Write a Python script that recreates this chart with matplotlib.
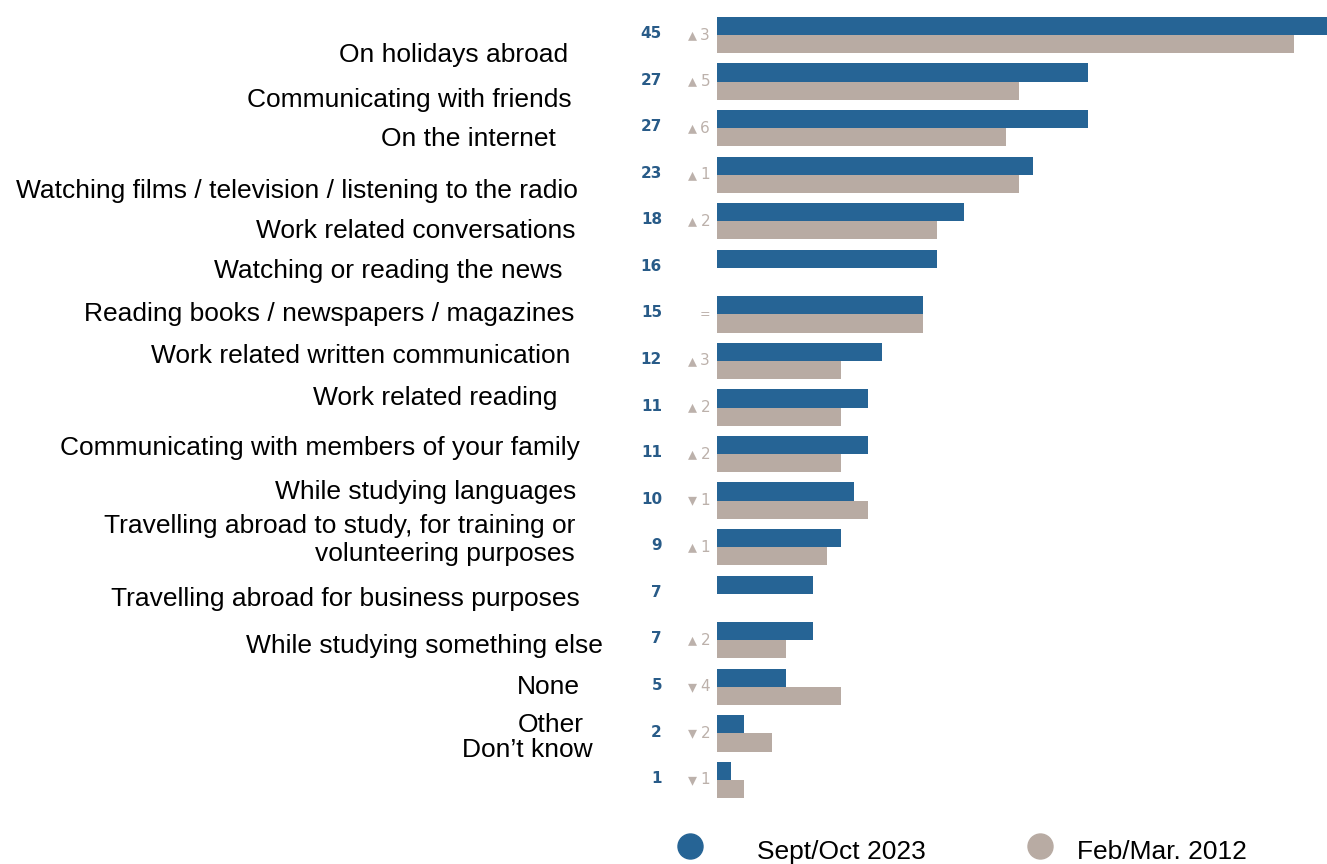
import matplotlib.pyplot as plt
from matplotlib.lines import Line2D
from matplotlib import transforms

plt.rcParams["font.family"] = ["Liberation Sans", "DejaVu Sans"]

# share of respondents (%), latest wave, and change since 2012 (None = new item)
categories = [
    "On holidays abroad",
    "Communicating with friends",
    "On the internet",
    "Watching films / television / listening to the radio",
    "Work related conversations",
    "Watching or reading the news",
    "Reading books / newspapers / magazines",
    "Work related written communication",
    "Work related reading",
    "Communicating with members of your family",
    "While studying languages",
    "Travelling abroad to study, for training or\nvolunteering purposes",
    "Travelling abroad for business purposes",
    "While studying something else",
    "None",
    "Other",
    "Don\u2019t know",
]
values_2023 = [45, 27, 27, 23, 18, 16, 15, 12, 11, 11, 10, 9, 7, 7, 5, 2, 1]
change = [3, 5, 6, 1, 2, None, 0, 3, 2, 2, -1, 1, None, 2, -4, -2, -1]
values_2012 = [None if c is None else v - c for v, c in zip(values_2023, change)]

legend_labels = ["Sept/Oct 2023", "Feb/Mar. 2012"]

BLUE = "#266495"
BEIGE = "#b8aba3"
NUM_BLUE = "#285b88"
GREY = "#bcb1ab"

W, H = 1327, 864
fig = plt.figure(figsize=(W / 100, H / 100), dpi=100)

# bar area: left edge at x=717px, rows centred from 35px down to 780px
row_px = (780 - 35) / 16
top_px = 35 - row_px / 2
bot_px = 780 + row_px / 2
ax = fig.add_axes([717 / W, 1 - bot_px / H, 1 - 717 / W, (bot_px - top_px) / H])
ax.set_xlim(0, 610 / 13.74)
ax.set_ylim(len(categories) - 0.5, -0.5)
ax.axis("off")

h = 0.39
rows = range(len(categories))
ax.barh([i - h / 2 for i in rows], values_2023, height=h, color=BLUE)
prev_rows = [i for i in rows if values_2012[i] is not None]
ax.barh([i + h / 2 for i in prev_rows], [values_2012[i] for i in prev_rows],
        height=h, color=BEIGE)

# value and change columns left of the bars
tr = transforms.blended_transform_factory(fig.transFigure, ax.transData)
for i, (v, c) in enumerate(zip(values_2023, change)):
    ax.text(662 / W, i - 0.03, str(v), transform=tr, ha="right", va="center",
            fontsize=11, fontweight="bold", color=NUM_BLUE,
            family="DejaVu Sans")
    if c is None:
        continue
    if c == 0:
        ax.text(705 / W, i, "=", transform=tr, ha="center", va="center",
                fontsize=9, color=GREY, family="DejaVu Sans")
        continue
    ax.text(692 / W, i, "\u25b4" if c > 0 else "\u25be", transform=tr,
            ha="center", va="center", fontsize=13, color=GREY,
            family="DejaVu Sans")
    ax.text(710 / W, i, str(abs(c)), transform=tr, ha="right", va="center",
            fontsize=11, color=GREY, family="DejaVu Sans")

# category labels
label_right = [568, 572, 556, 578, 576, 563, 574, 570, 557, 580, 576, 575,
               580, 603, 580, 584, 593]
label_y = [54, 99, 138, 190, 230, 270, 313, 355, 397, 447, 491, 539, 598,
           645, 686, 724, 749]
for text, x, y in zip(categories, label_right, label_y):
    fig.text(x / W, 1 - (y + 1) / H, text, ha="right", va="center",
             multialignment="right", fontsize=19, linespacing=1.2,
             color="black")

# legend
for (dot_x, txt_x), col, lab in zip([(690, 757), (1040, 1077)],
                                    [BLUE, BEIGE], legend_labels):
    fig.add_artist(Line2D([dot_x / W], [1 - 846 / H], marker="o",
                          markersize=18, color=col, linestyle="none",
                          transform=fig.transFigure))
    fig.text(txt_x / W, 1 - 852 / H, lab, ha="left", va="center",
             fontsize=19, color="black")

fig.savefig("out.png", dpi=100)
